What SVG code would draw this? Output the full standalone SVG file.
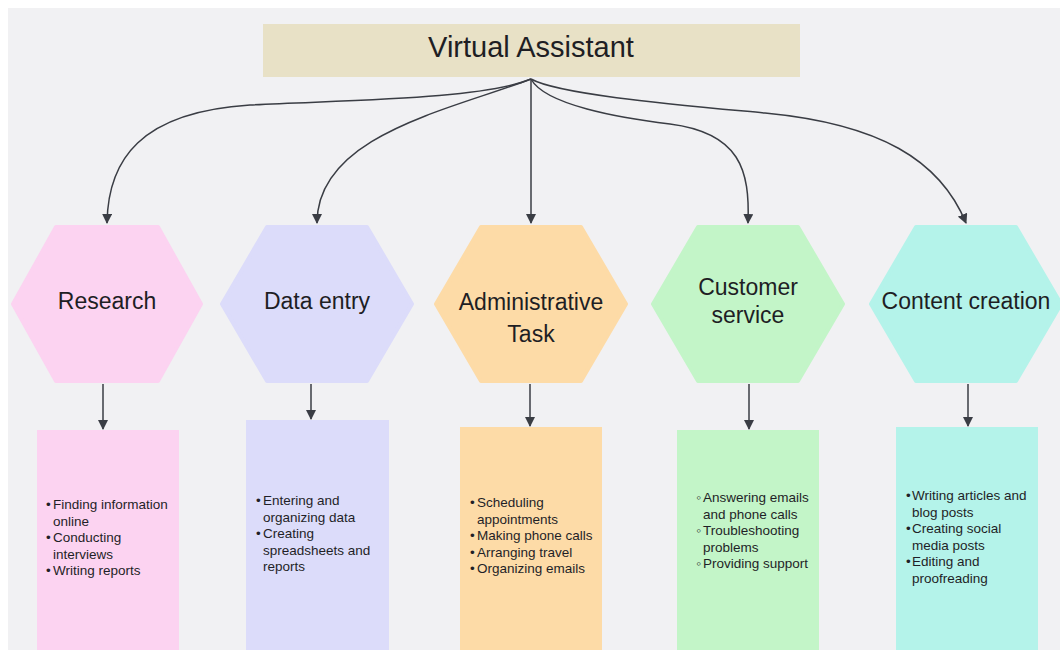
<svg xmlns="http://www.w3.org/2000/svg" width="1060" height="654" viewBox="0 0 1060 654">
<defs>
<marker id="ah" viewBox="0 0 10 10" refX="9" refY="5" markerWidth="10" markerHeight="10" markerUnits="userSpaceOnUse" orient="auto">
<path d="M0,0 L10,5 L0,10 Z" fill="#3a3d44"/>
</marker>
<style>
.conn{fill:none;stroke:#3a3d44;stroke-width:1.5;marker-end:url(#ah)}
.hex{stroke-width:4;stroke-linejoin:round}
.hl{font-family:"Liberation Sans",Arial,sans-serif;font-size:23px;fill:#1e1e24;text-anchor:middle}
.bt{font-family:"Liberation Sans",Arial,sans-serif;font-size:13.5px;fill:#1f1f27}
.title{font-family:"Liberation Sans",Arial,sans-serif;font-size:29px;fill:#1e1e24;text-anchor:middle}
</style>
</defs>
<rect x="0" y="0" width="1060" height="654" fill="#ffffff"/>
<rect x="8" y="8" width="1052" height="642" fill="#f1f1f3"/>

<g id="connectors">
<path class="conn" d="M531,79 C480,100 340,100 250,105 C140,112 108,160 107,223"/>
<path class="conn" d="M531,79 C450,110 317,135 317,223"/>
<path class="conn" d="M531,79 L531,223"/>
<path class="conn" d="M531,79 C545,105 620,118 670,124 C740,133 750,170 748,223"/>
<path class="conn" d="M531,79 C560,95 680,105 765,113 C880,124 940,160 966,223"/>
<path class="conn" d="M103,384 L103,429"/>
<path class="conn" d="M311,384 L311,419"/>
<path class="conn" d="M530,384 L530,426"/>
<path class="conn" d="M749,384 L749,429"/>
<path class="conn" d="M968,384 L968,426"/>
</g>

<g id="title">
<rect x="263" y="24" width="537" height="53" fill="#e8e1c6"/>
<text class="title" x="531" y="57">Virtual Assistant</text>
</g>

<g id="hex-research">
<polygon class="hex" fill="#fcd3f1" stroke="#fcd3f1" points="13,304 56,227 158,227 201,304 158,381 56,381"/>
<text class="hl" x="107" y="309">Research</text>
</g>
<g id="hex-data-entry">
<polygon class="hex" fill="#dcdcfa" stroke="#dcdcfa" points="222,304 267,227 367,227 412,304 367,381 267,381"/>
<text class="hl" x="317" y="309">Data entry</text>
</g>
<g id="hex-admin">
<polygon class="hex" fill="#fddba7" stroke="#fddba7" points="436,304 481,227 581,227 626,304 581,381 481,381"/>
<text class="hl" x="531" y="310">Administrative</text>
<text class="hl" x="531" y="342">Task</text>
</g>
<g id="hex-customer">
<polygon class="hex" fill="#c3f5c8" stroke="#c3f5c8" points="653,304 698,227 798,227 843,304 798,381 698,381"/>
<text class="hl" x="748" y="295">Customer</text>
<text class="hl" x="748" y="323">service</text>
</g>
<g id="hex-content">
<polygon class="hex" fill="#b4f3ea" stroke="#b4f3ea" points="871,304 916,227 1016,227 1061,304 1016,381 916,381"/>
<text class="hl" x="966" y="309">Content creation</text>
</g>

<g id="box-research">
<rect x="37" y="430" width="142" height="220" fill="#fcd3f1"/>
<text class="bt"><tspan x="46" y="509">•</tspan><tspan x="53" y="509">Finding information</tspan></text>
<text class="bt" x="53" y="525.5">online</text>
<text class="bt"><tspan x="46" y="542">•</tspan><tspan x="53" y="542">Conducting</tspan></text>
<text class="bt" x="53" y="558.5">interviews</text>
<text class="bt"><tspan x="46" y="575">•</tspan><tspan x="53" y="575">Writing reports</tspan></text>
</g>
<g id="box-data-entry">
<rect x="246" y="420" width="143" height="230" fill="#dcdcfa"/>
<text class="bt"><tspan x="256" y="505">•</tspan><tspan x="263" y="505">Entering and</tspan></text>
<text class="bt" x="263" y="521.5">organizing data</text>
<text class="bt"><tspan x="256" y="538">•</tspan><tspan x="263" y="538">Creating</tspan></text>
<text class="bt" x="263" y="554.5">spreadsheets and</text>
<text class="bt" x="263" y="571">reports</text>
</g>
<g id="box-admin">
<rect x="460" y="427" width="142" height="223" fill="#fddba7"/>
<text class="bt"><tspan x="470" y="507">•</tspan><tspan x="477" y="507">Scheduling</tspan></text>
<text class="bt" x="477" y="523.5">appointments</text>
<text class="bt"><tspan x="470" y="540">•</tspan><tspan x="477" y="540">Making phone calls</tspan></text>
<text class="bt"><tspan x="470" y="556.5">•</tspan><tspan x="477" y="556.5">Arranging travel</tspan></text>
<text class="bt"><tspan x="470" y="573">•</tspan><tspan x="477" y="573">Organizing emails</tspan></text>
</g>
<g id="box-customer">
<rect x="677" y="430" width="142" height="220" fill="#c3f5c8"/>
<text class="bt"><tspan x="696" y="502">◦</tspan><tspan x="703" y="502">Answering emails</tspan></text>
<text class="bt" x="703" y="518.5">and phone calls</text>
<text class="bt"><tspan x="696" y="535">◦</tspan><tspan x="703" y="535">Troubleshooting</tspan></text>
<text class="bt" x="703" y="551.5">problems</text>
<text class="bt"><tspan x="696" y="568">◦</tspan><tspan x="703" y="568">Providing support</tspan></text>
</g>
<g id="box-content">
<rect x="896" y="427" width="142" height="223" fill="#b4f3ea"/>
<text class="bt"><tspan x="906" y="500">•</tspan><tspan x="912" y="500">Writing articles and</tspan></text>
<text class="bt" x="912" y="516.5">blog posts</text>
<text class="bt"><tspan x="906" y="533">•</tspan><tspan x="912" y="533">Creating social</tspan></text>
<text class="bt" x="912" y="549.5">media posts</text>
<text class="bt"><tspan x="906" y="566">•</tspan><tspan x="912" y="566">Editing and</tspan></text>
<text class="bt" x="912" y="582.5">proofreading</text>
</g>
</svg>
